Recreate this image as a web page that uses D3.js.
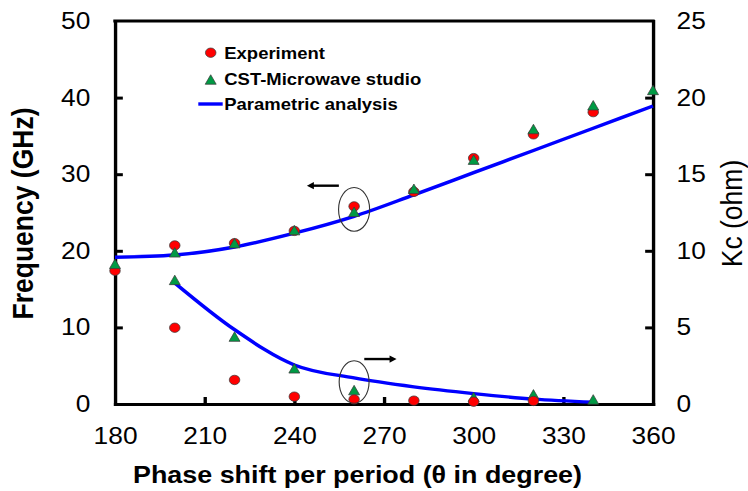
<!DOCTYPE html>
<html>
<head>
<meta charset="utf-8">
<script src="https://cdn.jsdelivr.net/npm/d3@7"></script>
<style>
  html, body { margin: 0; padding: 0; background: #fff; }
  svg { display: block; }
  text { font-family: Arial, "Liberation Sans", sans-serif; fill: #000; }
</style>
</head>
<body>
<svg id="chart" width="748" height="491"></svg>
<script>
// ---------- data ----------
const phaseFreq   = [180, 200, 220, 240, 260, 280, 300, 320, 340, 360];
const freqExp     = [17.4, 20.7, 21.0, 22.6, 25.8, 27.7, 32.1, 35.2, 38.1];      // 180..340
const freqCST     = [18.3, 19.8, 21.0, 22.7, 25.1, 28.1, 31.9, 35.9, 39.0, 41.0];
const freqParam   = [19.15, 19.45, 20.5, 22.3, 24.5, 27.3, 30.2, 33.1, 36.0, 38.9];

const phaseKcExp  = [200, 220, 240, 260, 280, 300, 320];
const kcExp       = [4.98, 1.57, 0.48, 0.3, 0.22, 0.15, 0.2];
const phaseKcCST  = [200, 220, 240, 260, 300, 320, 340];
const kcCST       = [8.1, 4.4, 2.33, 0.91, 0.45, 0.63, 0.3];
const phaseKcPar  = [200, 220, 240, 260, 280, 300, 320, 340];
const kcParam     = [7.9, 4.85, 2.55, 1.7, 1.12, 0.68, 0.32, 0.12];

const xTicks  = [180, 210, 240, 270, 300, 330, 360];
const yLTicks = [0, 10, 20, 30, 40, 50];
const yRTicks = [0, 5, 10, 15, 20, 25];

const legendLabels = ["Experiment", "CST-Microwave studio", "Parametric analysis"];
const xTitle = "Phase shift per period (θ in degree)";
const yLTitle = "Frequency (GHz)";
const yRTitle = "Kc (ohm)";

// annotations in data units (phase, frequency)
const ellipses = [
  {cx: 260, cy: 25.4, dx: 5.2, dy: 2.85},
  {cx: 260, cy: 2.87, dx: 5.0, dy: 2.78}
];
const arrows = [
  {x1: 254.9, x2: 244.2, y: 28.5},
  {x1: 263.4, x2: 274.2, y: 5.87}
];

// ---------- layout ----------
const SX = 1.12;                       // horizontal stretch of the original picture
const svg = d3.select("#chart");
const g = svg.append("g").attr("transform", `scale(${SX},1)`);

const x  = d3.scaleLinear().domain([180, 360]).range([115 / SX, 653 / SX]);
const yL = d3.scaleLinear().domain([0, 50]).range([404, 21]);
const yR = d3.scaleLinear().domain([0, 25]).range([404, 21]);

const RED = "#ff0000", GREEN = "#009a44", BLUE = "#0000ff", EDGE = "#3a3a3a";

// triangle marker (bbox-centred)
const triType = {
  draw(ctx, size) {
    const h = Math.sqrt(size), w = h * 1.03;
    ctx.moveTo(0, -h / 2);
    ctx.lineTo(w / 2, h / 2);
    ctx.lineTo(-w / 2, h / 2);
    ctx.closePath();
  }
};
const triPath = d3.symbol(triType, 90)();

// ---------- axes ----------
const tickFont = "23.5px";
function styleAxis(sel) {
  sel.select(".domain").attr("stroke", "#000").attr("stroke-width", 3).attr("stroke-linecap", "square");
  sel.selectAll(".tick line").attr("stroke", "#000").attr("stroke-width", 3);
  sel.selectAll(".tick text").style("font-size", tickFont).attr("fill", "#000");
}

const axL = g.append("g").attr("transform", `translate(${x(180)},0)`)
  .call(d3.axisLeft(yL).tickValues(yLTicks).tickSize(-7).tickSizeOuter(0).tickPadding(22));
styleAxis(axL);
axL.selectAll(".tick").filter(d => d === 0 || d === 50).select("line").remove();

const axR = g.append("g").attr("transform", `translate(${x(360)},0)`)
  .call(d3.axisRight(yR).tickValues(yRTicks).tickSize(-7).tickSizeOuter(0).tickPadding(21));
styleAxis(axR);
axR.selectAll(".tick").filter(d => d === 0 || d === 25).select("line").remove();

const axB = g.append("g").attr("transform", `translate(0,${yL(0)})`)
  .call(d3.axisBottom(x).tickValues(xTicks).tickSize(-7).tickSizeOuter(0).tickPadding(23));
styleAxis(axB);
axB.selectAll(".tick").filter(d => d === 180 || d === 360).select("line").remove();

// top border
g.append("line")
  .attr("x1", x(180)).attr("x2", x(360)).attr("y1", yL(50)).attr("y2", yL(50))
  .attr("stroke", "#000").attr("stroke-width", 3).attr("stroke-linecap", "square");

// ---------- lines ----------
const lineF = d3.line().x((d, i) => x(phaseFreq[i])).y(d => yL(d)).curve(d3.curveMonotoneX);
g.append("path").attr("d", lineF(freqParam))
  .attr("fill", "none").attr("stroke", BLUE).attr("stroke-width", 3.4);

const lineK = d3.line().x((d, i) => x(phaseKcPar[i])).y(d => yR(d)).curve(d3.curveMonotoneX);
g.append("path").attr("d", lineK(kcParam))
  .attr("fill", "none").attr("stroke", BLUE).attr("stroke-width", 3.4);

// ---------- markers ----------
function circles(xs, ys, sc) {
  g.append("g").selectAll("circle").data(ys).join("circle")
    .attr("cx", (d, i) => x(xs[i])).attr("cy", d => sc(d)).attr("r", 4.7)
    .attr("fill", RED).attr("stroke", EDGE).attr("stroke-width", 0.7);
}
function triangles(xs, ys, sc) {
  g.append("g").selectAll("path").data(ys).join("path")
    .attr("d", triPath)
    .attr("transform", (d, i) => `translate(${x(xs[i])},${sc(d)})`)
    .attr("fill", GREEN).attr("stroke", EDGE).attr("stroke-width", 0.7);
}
// frequency: circles under triangles
circles(phaseFreq, freqExp, yL);
triangles(phaseFreq, freqCST, yL);
// Kc: triangles under circles
triangles(phaseKcCST, kcCST, yR);
circles(phaseKcExp, kcExp, yR);

// ---------- annotations ----------
g.append("g").selectAll("ellipse").data(ellipses).join("ellipse")
  .attr("cx", d => x(d.cx)).attr("cy", d => yL(d.cy))
  .attr("rx", d => x(d.cx + d.dx) - x(d.cx))
  .attr("ry", d => yL(0) - yL(d.dy))
  .attr("fill", "none").attr("stroke", "#333").attr("stroke-width", 1);

const arrG = g.append("g");
arrows.forEach(a => {
  const dir = Math.sign(a.x2 - a.x1);
  const xe = x(a.x2), xs = x(a.x1), yy = yL(a.y);
  const head = 7 / SX;
  arrG.append("line").attr("x1", xs).attr("x2", xe - dir * head * 0.8).attr("y1", yy).attr("y2", yy)
    .attr("stroke", "#000").attr("stroke-width", 2.4);
  arrG.append("path")
    .attr("d", `M${xe},${yy}L${xe - dir * head},${yy - 3.6}L${xe - dir * head},${yy + 3.6}Z`)
    .attr("fill", "#000");
});

// ---------- legend ----------
const lgX = 210.7 / SX, lgText = 224.3 / SX;
const lgRows = [52.7, 79.5, 104];
const lg = g.append("g");
lg.append("circle").attr("cx", lgX).attr("cy", lgRows[0]).attr("r", 4.7)
  .attr("fill", RED).attr("stroke", EDGE).attr("stroke-width", 0.7);
lg.append("path").attr("d", triPath).attr("transform", `translate(${lgX},${lgRows[1]})`)
  .attr("fill", GREEN).attr("stroke", EDGE).attr("stroke-width", 0.7);
lg.append("line").attr("x1", 198.3 / SX).attr("x2", 222.7 / SX)
  .attr("y1", lgRows[2]).attr("y2", lgRows[2]).attr("stroke", BLUE).attr("stroke-width", 3.4);
lg.selectAll("text").data(legendLabels).join("text")
  .attr("x", lgText).attr("y", (d, i) => lgRows[i] + 6)
  .style("font-size", "16.5px").style("font-weight", "bold")
  .text(d => d);

// ---------- titles ----------
g.append("text").attr("x", 357.5 / SX).attr("y", 482.7)
  .attr("text-anchor", "middle").style("font-size", "24px").style("font-weight", "bold")
  .text(xTitle);
g.append("text").attr("transform", `translate(${33.3 / SX},213.5) rotate(-90)`)
  .attr("text-anchor", "middle").style("font-size", "26.5px").style("font-weight", "bold")
  .text(yLTitle);
g.append("text").attr("transform", `translate(${741.7 / SX},213.5) rotate(-90)`)
  .attr("text-anchor", "middle").style("font-size", "26.5px").style("font-weight", "normal")
  .text(yRTitle);
</script>
</body>
</html>
